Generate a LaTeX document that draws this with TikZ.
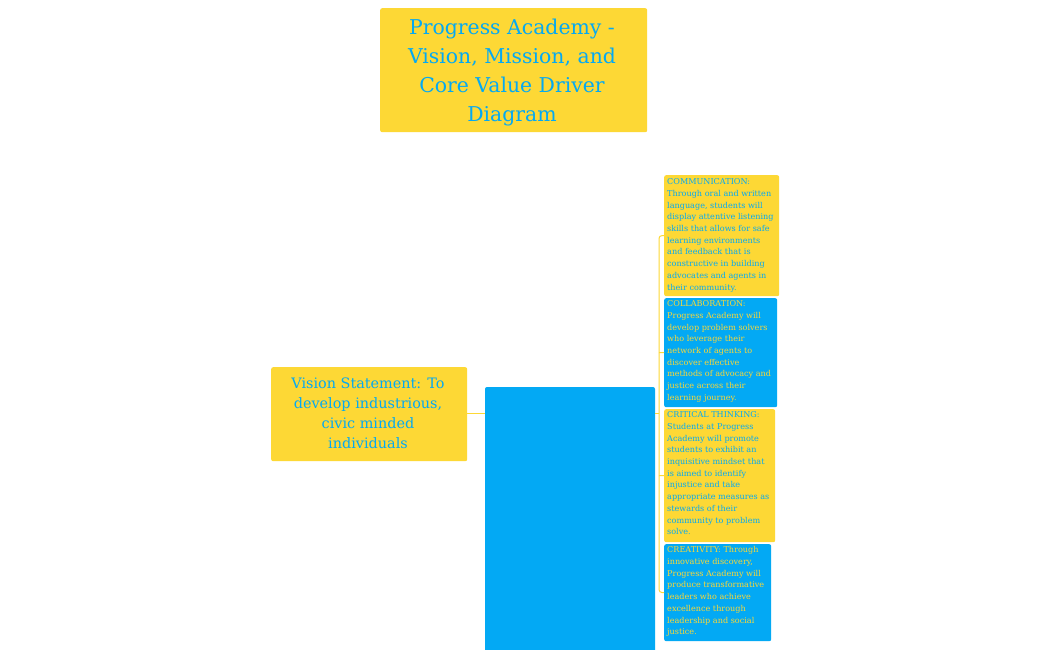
\documentclass[tikz,border=0pt]{standalone}
\usepackage{fontspec}
\setmainfont{DejaVu Serif}
\definecolor{pyellow}{HTML}{FDD835}
\definecolor{pblue}{HTML}{03A9F4}
\definecolor{plink}{HTML}{FDD835}
\begin{document}
\begin{tikzpicture}[x=1pt,y=-1pt,
  ybox/.style={fill=pyellow,draw=none,rounded corners=2pt,anchor=north west,inner sep=0pt},
  bbox/.style={fill=pblue,draw=none,rounded corners=2pt,anchor=north west,inner sep=0pt},
  small/.style={anchor=north west,align=left,inner sep=0pt,font=\fontsize{8.1}{11.7}\selectfont},
  link/.style={draw=plink,line width=1pt}]
\useasboundingbox (0,0) rectangle (1050,650);
\fill[white] (0,0) rectangle (1050,650);
% title
\node[ybox,minimum width=267pt,minimum height=124pt] (title) at (380,8) {};
\node[align=center,text=pblue,font=\fontsize{20.4}{29}\selectfont] (titletext) at (512,73) {Progress Academy -\\Vision, Mission, and\\Core Value Driver\\Diagram};
% vision
\node[ybox,minimum width=196pt,minimum height=94pt] (vision) at (271,367) {};
\node[align=center,text=pblue,font=\fontsize{14.4}{20}\selectfont] (visiontext) at (368,413.5) {Vision Statement: To\\develop industrious,\\civic minded\\individuals};
% big blue
\begin{scope}
\clip (0,0) rectangle (1050,650);
\fill[pblue,rounded corners=2pt] (485,660) -- (485,387) -- (655,387) -- (655,660) -- cycle;
\end{scope}
\coordinate (bigE) at (655,413);
\coordinate (bigW) at (485,413);
% core value boxes
\node[ybox,minimum width=115pt,minimum height=121pt] (comm) at (664,175) {};
\node[small,text=pblue] (commtext) at (667,178.5) {COMMUNICATION:\\Through oral and written\\language, students will\\display attentive listening\\skills that allows for safe\\learning environments\\and feedback that is\\constructive in building\\advocates and agents in\\their community.};
\node[bbox,minimum width=113pt,minimum height=109pt] (collab) at (664,298) {};
\node[small,text=pyellow] (collabtext) at (667,300.5) {COLLABORATION:\\Progress Academy will\\develop problem solvers\\who leverage their\\network of agents to\\discover effective\\methods of advocacy and\\justice across their\\learning journey.};
\node[ybox,minimum width=111pt,minimum height=133pt] (crit) at (664,409) {};
\node[small,text=pblue] (crittext) at (667,411.5) {CRITICAL THINKING:\\Students at Progress\\Academy will promote\\students to exhibit an\\inquisitive mindset that\\is aimed to identify\\injustice and take\\appropriate measures as\\stewards of their\\community to problem\\solve.};
\node[bbox,minimum width=107pt,minimum height=97pt] (creat) at (664,544) {};
\node[small,text=pyellow] (creattext) at (667,546.5) {CREATIVITY: Through\\innovative discovery,\\Progress Academy will\\produce transformative\\leaders who achieve\\excellence through\\leadership and social\\justice.};
% connectors
\draw[link] (vision.east |- bigW) -- (bigW);
\coordinate (trunk) at (659,413);
\draw[link,rounded corners=3pt] (comm.west) -- (659,235.5) -- (659,592.5) -- (creat.west);
\draw[link] (bigE) -- (trunk);
\draw[link] (659,352.5) -- (collab.west);
\draw[link] (659,475.5) -- (crit.west);
\end{tikzpicture}
\end{document}
